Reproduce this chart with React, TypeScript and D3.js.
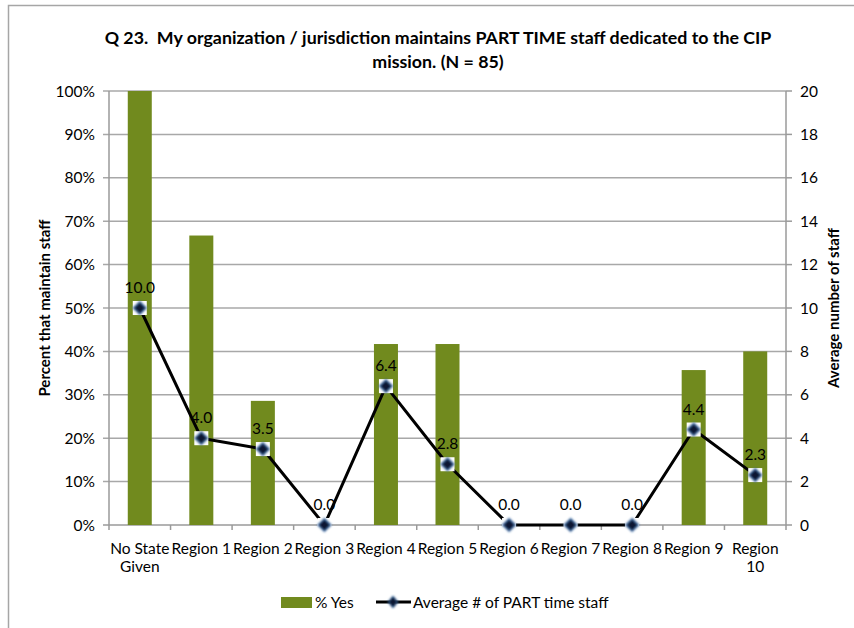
import React from "react";
import * as d3 from "d3";

const categories = ["No State Given", "Region 1", "Region 2", "Region 3", "Region 4", "Region 5", "Region 6", "Region 7", "Region 8", "Region 9", "Region 10"];
const categoryLines = [["No State", "Given"], ["Region 1"], ["Region 2"], ["Region 3"], ["Region 4"], ["Region 5"], ["Region 6"], ["Region 7"], ["Region 8"], ["Region 9"], ["Region", "10"]];
const pctYes = [100, 66.7, 28.6, 0, 41.7, 41.7, 0, 0, 0, 35.7, 40];
const avgStaff = [10.0, 4.0, 3.5, 0.0, 6.4, 2.8, 0.0, 0.0, 0.0, 4.4, 2.3];
const leftTicks = [0, 10, 20, 30, 40, 50, 60, 70, 80, 90, 100];
const rightTicks = [0, 2, 4, 6, 8, 10, 12, 14, 16, 18, 20];

const FONT = "Lato, 'Open Sans', sans-serif";

export default function App() {
  const W = 854, H = 628;
  const left = 109, right = 786, top = 91, bottom = 525;
  const x = d3.scaleBand<string>().domain(categories).range([left, right]).paddingInner(0).paddingOuter(0);
  const yL = d3.scaleLinear().domain([0, 100]).range([bottom, top]);
  const yR = d3.scaleLinear().domain([0, 20]).range([bottom, top]);
  const bw = x.bandwidth() * 0.39;
  const line = d3.line<number>().x((_, i) => x(categories[i])! + x.bandwidth() / 2).y(d => yR(d));
  const axisColor = "#9a9a9a";
  const fs = 15.5;

  return (
    <svg width={W} height={H} style={{ position: "absolute", left: 0, top: 0 }} fontFamily={FONT}>
      <defs>
        <filter id="blur" x="-50%" y="-50%" width="200%" height="200%">
          <feGaussianBlur stdDeviation="0.9" />
        </filter>
      </defs>
      <rect x={0} y={0} width={W} height={H} fill="#fff" />
      <path d={`M8.5,${H} V5.5 H${W}`} fill="none" stroke="#a6a6a6" strokeWidth={1.5} />
      <text x={438} y={44} textAnchor="middle" fontSize={17.8} fontWeight="bold" fill="#000" style={{ whiteSpace: "pre" }}>
        {"Q 23.  My organization / jurisdiction maintains PART TIME staff dedicated to the CIP"}
      </text>
      <text x={438} y={68} textAnchor="middle" fontSize={17.8} fontWeight="bold" fill="#000">
        mission. (N = 85)
      </text>
      {leftTicks.map(t => (
        <g key={"g" + t}>
          <line x1={left - 6} x2={right} y1={yL(t)} y2={yL(t)} stroke={t === 0 ? axisColor : "#a8a8a8"} strokeWidth={1.5} />
          <text x={95} y={yL(t) + 5.5} textAnchor="end" fontSize={fs} fill="#000">{t}%</text>
        </g>
      ))}
      {rightTicks.map(t => (
        <g key={"r" + t}>
          <line x1={right} x2={right + 6} y1={yR(t)} y2={yR(t)} stroke={axisColor} strokeWidth={1.5} />
          <text x={800} y={yR(t) + 5.5} textAnchor="start" fontSize={fs} fill="#000">{t}</text>
        </g>
      ))}
      <line x1={left} x2={left} y1={top} y2={bottom} stroke={axisColor} strokeWidth={1.5} />
      <line x1={right} x2={right} y1={top} y2={bottom} stroke={axisColor} strokeWidth={1.5} />
      {categories.map((c, i) => (
        <line key={"xt" + i} x1={x(c)!} x2={x(c)!} y1={bottom} y2={bottom + 5} stroke={axisColor} strokeWidth={1.5} />
      ))}
      <line x1={right} x2={right} y1={bottom} y2={bottom + 5} stroke={axisColor} strokeWidth={1.5} />
      {categories.map((c, i) => (
        <rect key={"b" + i} x={x(c)! + (x.bandwidth() - bw) / 2} y={yL(pctYes[i])} width={bw} height={bottom - yL(pctYes[i])} fill="#718A1E" />
      ))}
      <path d={line(avgStaff) || ""} fill="none" stroke="#000" strokeWidth={3} strokeLinejoin="round" />
      {avgStaff.map((v, i) => {
        const cx = x(categories[i])! + x.bandwidth() / 2;
        const cy = yR(v);
        return (
          <g key={"m" + i}>
            <rect x={cx - 7} y={cy - 7} width={14} height={14} fill="#fff" />
            <path d={`M${cx},${cy - 6.5} L${cx + 6.5},${cy} L${cx},${cy + 6.5} L${cx - 6.5},${cy} Z`} fill="#0b1630" stroke="#3f6ea8" strokeWidth={1.2} filter="url(#blur)" />
            <text x={cx} y={cy - 15} textAnchor="middle" fontSize={fs} fill="#000">{v.toFixed(1)}</text>
          </g>
        );
      })}
      {categories.map((c, i) => (
        <text key={"xl" + i} x={x(c)! + x.bandwidth() / 2} y={554} textAnchor="middle" fontSize={fs} fill="#000">
          {categoryLines[i].map((l, j) => (
            <tspan key={j} x={x(c)! + x.bandwidth() / 2} dy={j === 0 ? 0 : 18}>{l}</tspan>
          ))}
        </text>
      ))}
      <text transform={`translate(50,308) rotate(-90)`} textAnchor="middle" fontSize={15} fontWeight="bold" fill="#000">Percent that maintain staff</text>
      <text transform={`translate(839,308) rotate(-90)`} textAnchor="middle" fontSize={15} fontWeight="bold" fill="#000">Average number of staff</text>
      <rect x={281} y={597} width={31} height={11} fill="#718A1E" />
      <text x={315} y={608} fontSize={fs} fill="#000">% Yes</text>
      <line x1={376} x2={411} y1={602} y2={602} stroke="#000" strokeWidth={3} />
      <path d="M393,596 L398,602 L393,608 L388,602 Z" fill="#0b1630" stroke="#3f6ea8" strokeWidth={1} filter="url(#blur)" />
      <text x={413} y={608} fontSize={fs} fill="#000">Average # of PART time staff</text>
    </svg>
  );
}
